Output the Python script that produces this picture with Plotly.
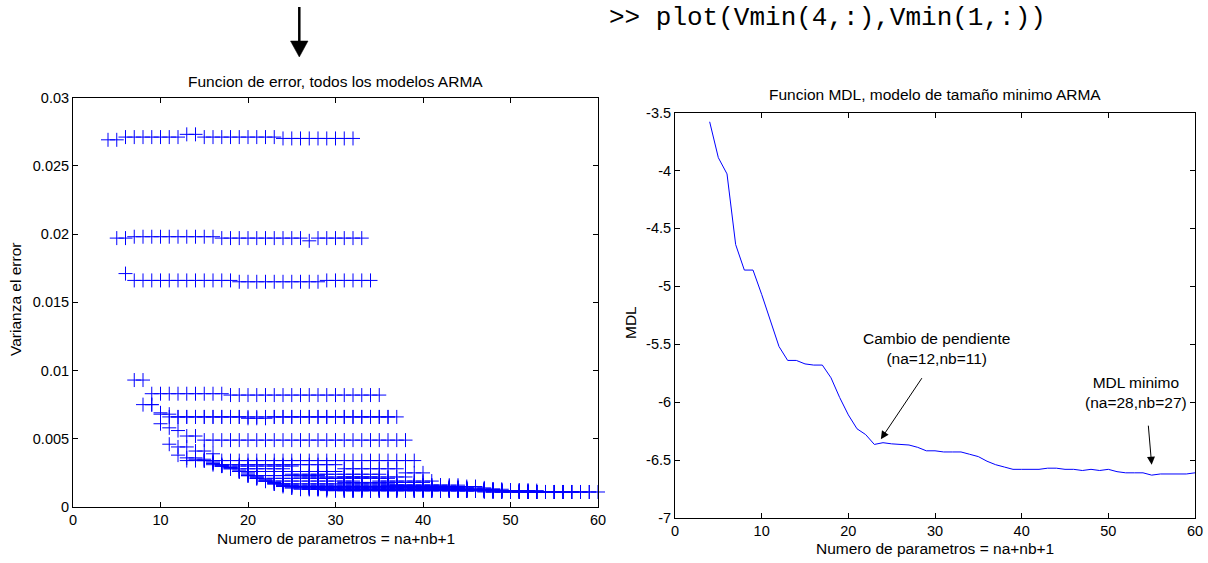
import plotly.graph_objects as go

# ---------------- data ----------------
# Left plot: error variance of every ARMA model, one row per AR order (na)
row_na = [2, 3, 4, 5, 6, 7, 8, 9, 10, 11, 12, 13, 14, 15, 16, 17, 18, 19, 20,
          21, 22, 23, 24, 25, 26, 27, 28, 29, 30]
row_first_param = [4, 5, 6, 7, 8, 9, 10, 11, 12, 13, 14, 15, 16, 17, 18, 19, 20, 21, 22,
                   23, 24, 25, 26, 27, 28, 29, 30, 31, 32]
# each row: (variance, number of consecutive models at that level)
row_levels = [
    [(0.0269, 2), (0.0271, 7), (0.0273, 2), (0.0271, 9), (0.0270, 9)],
    [(0.0197, 2), (0.0198, 10), (0.0197, 10), (0.0195, 1), (0.0197, 6)],
    [(0.0171, 1), (0.0166, 12), (0.0165, 10), (0.0166, 6)],
    [(0.0093, 2), (0.0083, 9), (0.0082, 18)],
    [(0.0075, 2), (0.0069, 1), (0.0066, 26)],
    [(0.0075, 1), (0.0068, 2), (0.0066, 8), (0.0065, 3), (0.0066, 15)],
    [(0.0061, 1), (0.0058, 1), (0.0056, 1), (0.0052, 2), (0.0049, 24)],
    [(0.0046, 1), (0.0038, 1), (0.0034, 27)],
    [(0.0044, 2), (0.0041, 2), (0.0039, 1), (0.0031, 14), (0.0028, 7), (0.0025, 3)],
    [(0.0036, 2), (0.0035, 1), (0.0033, 1), (0.0030, 9), (0.0022, 9), (0.0019, 7)],
    [(0.0035, 1), (0.0034, 1), (0.0032, 1), (0.0031, 1), (0.0028, 7), (0.0024, 11), (0.0016, 7)],
    [(0.0034, 1), (0.0032, 1), (0.0030, 1), (0.0029, 1), (0.0026, 12), (0.0022, 8), (0.0015, 5)],
    [(0.0031, 1), (0.0030, 1), (0.0028, 1), (0.0026, 1), (0.0023, 9), (0.0021, 8), (0.0016, 8)],
    [(0.0030, 1), (0.0029, 1), (0.0026, 1), (0.0023, 1), (0.0021, 10), (0.0018, 10), (0.0014, 5)],
    [(0.0029, 1), (0.0026, 1), (0.0023, 1), (0.0021, 1), (0.0019, 11), (0.0015, 14)],
    [(0.0027, 1), (0.0024, 1), (0.0021, 1), (0.0019, 1), (0.0017, 14), (0.0014, 11)],
    [(0.0025, 1), (0.0022, 1), (0.0019, 1), (0.0017, 1), (0.0016, 15), (0.0013, 10)],
    [(0.0022, 1), (0.0019, 1), (0.0017, 1), (0.0015, 17), (0.0013, 9)],
    [(0.0020, 1), (0.0018, 1), (0.0016, 1), (0.0014, 20), (0.0012, 6)],
    [(0.0018, 1), (0.0016, 1), (0.0015, 16), (0.0012, 11)],
    [(0.0017, 1), (0.0014, 18), (0.0012, 10)],
    [(0.0016, 1), (0.0014, 19), (0.0012, 9)],
    [(0.0013, 21), (0.0011, 8)],
    [(0.0013, 21), (0.0011, 8)],
    [(0.0013, 21), (0.0011, 8)],
    [(0.0012, 21), (0.0011, 8)],
    [(0.0012, 21), (0.0011, 8)],
    [(0.0012, 21), (0.0011, 8)],
    [(0.0012, 21), (0.0011, 8)],
]

# Right plot: MDL of the minimum-size ARMA model
mdl_params = [4, 5, 6, 7, 8, 9, 10, 11, 12, 13, 14, 15, 16, 17, 18, 19, 20, 21, 22, 23,
              24, 25, 26, 27, 28, 29, 30, 31, 32, 33, 34, 35, 36, 37, 38, 39, 40, 41, 42,
              43, 44, 45, 46, 47, 48, 49, 50, 51, 52, 53, 54, 55, 56, 57, 58, 59, 60]
mdl_values = [-3.58, -3.89, -4.03, -4.64, -4.86, -4.86, -5.07, -5.30, -5.52, -5.64,
              -5.64, -5.67, -5.68, -5.68, -5.79, -5.96, -6.11, -6.23, -6.28, -6.365,
              -6.35, -6.36, -6.365, -6.37, -6.39, -6.42, -6.42, -6.43, -6.43, -6.43,
              -6.45, -6.47, -6.51, -6.54, -6.56, -6.58, -6.58, -6.58, -6.58, -6.57,
              -6.57, -6.58, -6.58, -6.59, -6.58, -6.59, -6.58, -6.60, -6.61, -6.61,
              -6.61, -6.63, -6.62, -6.62, -6.62, -6.62, -6.61]

x_ticks = [0, 10, 20, 30, 40, 50, 60]
left_y_ticks = [0, 0.005, 0.01, 0.015, 0.02, 0.025, 0.03]
left_y_labels = ["0", "0.005", "0.01", "0.015", "0.02", "0.025", "0.03"]
right_y_ticks = [-7, -6.5, -6, -5.5, -5, -4.5, -4, -3.5]
right_y_labels = ["-7", "-6.5", "-6", "-5.5", "-5", "-4.5", "-4", "-3.5"]

# ---------------- figure ----------------
W, H = 1208, 563
def px(x):
    return x / W
def py(y):
    return 1 - y / H

left_x, left_y = [], []
for start, levels in zip(row_first_param, row_levels):
    k = start
    for val, cnt in levels:
        for _ in range(cnt):
            left_x.append(k)
            left_y.append(val)
            k += 1

BLUE = "#0000ff"
FONT = "Liberation Sans, Arial, sans-serif"
TXT = 15.5

fig = go.Figure()
fig.add_trace(go.Scatter(
    x=left_x, y=left_y, mode="markers", xaxis="x", yaxis="y",
    marker=dict(symbol="cross-thin", size=10, line=dict(color=BLUE, width=1)),
    cliponaxis=False, showlegend=False, hoverinfo="skip"))
fig.add_trace(go.Scatter(
    x=mdl_params, y=mdl_values, mode="lines", xaxis="x2", yaxis="y2",
    line=dict(color=BLUE, width=1), showlegend=False, hoverinfo="skip"))

axis_common = dict(showline=True, linecolor="black", linewidth=1, mirror="ticks",
                   ticks="inside", ticklen=5, tickwidth=1, tickcolor="black",
                   showgrid=False, zeroline=False, automargin=False,
                   tickfont=dict(family=FONT, size=14.5, color="black"))

fig.update_layout(
    width=W, height=H, margin=dict(l=0, r=0, t=0, b=0),
    paper_bgcolor="white", plot_bgcolor="white",
    font=dict(family=FONT, size=TXT, color="black"),
    xaxis=dict(domain=[px(73), px(598)], range=[0, 60], tickvals=x_ticks,
               anchor="y", **axis_common),
    yaxis=dict(domain=[py(507), py(97.5)], range=[0, 0.03], tickvals=left_y_ticks,
               ticktext=left_y_labels, anchor="x", **axis_common),
    xaxis2=dict(domain=[px(675), px(1195)], range=[0, 60], tickvals=x_ticks,
                anchor="y2", **axis_common),
    yaxis2=dict(domain=[py(518), py(112.5)], range=[-7, -3.5], tickvals=right_y_ticks,
                ticktext=right_y_labels, anchor="x2", **axis_common),
)

def txt(text, x, y, size=TXT, angle=0, family=FONT):
    return dict(text=text, x=x, y=y, xref="paper", yref="paper", showarrow=False,
                xanchor="center", yanchor="middle", textangle=angle,
                font=dict(family=family, size=size, color="black"))

annots = [
    txt("Funcion de error, todos los modelos ARMA", px(335.5), py(81)),
    txt("Funcion MDL, modelo de tamaño minimo ARMA", px(935), py(94)),
    txt("Numero de parametros = na+nb+1", px(335.5), py(538)),
    txt("Numero de parametros = na+nb+1", px(935), py(548)),
    txt("Varianza el error", px(15), py(300), angle=-90),
    txt("MDL", px(630), py(323), angle=-90),
    txt(">> plot(Vmin(4,:),Vmin(1,:))", px(828), py(18), size=26,
        family="Liberation Mono, Courier New, monospace"),
    dict(text="Cambio de pendiente<br>(na=12,nb=11)", x=30.2, y=-5.54, xref="x2", yref="y2",
         showarrow=False, xanchor="center", yanchor="middle",
         font=dict(family=FONT, size=TXT, color="black")),
    dict(text="MDL minimo<br>(na=28,nb=27)", x=53.2, y=-5.92, xref="x2", yref="y2",
         showarrow=False, xanchor="center", yanchor="middle",
         font=dict(family=FONT, size=TXT, color="black")),
    dict(text="", x=23.75, y=-6.32, ax=28.6, ay=-5.78, xref="x2", yref="y2",
         axref="x2", ayref="y2", showarrow=True, arrowhead=2, arrowsize=1.6,
         arrowwidth=1, arrowcolor="black"),
    dict(text="", x=55.0, y=-6.54, ax=54.6, ay=-6.19, xref="x2", yref="y2",
         axref="x2", ayref="y2", showarrow=True, arrowhead=2, arrowsize=1.6,
         arrowwidth=1, arrowcolor="black"),
]
fig.update_layout(annotations=annots)

# big arrow at the top left (decoration of the document)
fig.add_shape(type="line", xref="paper", yref="paper",
              x0=px(299.3), x1=px(299.3), y0=py(7), y1=py(42),
              line=dict(color="black", width=2.5))
fig.add_shape(type="path", xref="paper", yref="paper",
              path=f"M {px(290.5)},{py(41)} L {px(308)},{py(41)} L {px(299.3)},{py(57)} Z",
              fillcolor="black", line=dict(color="black", width=0.5))

fig.write_html("out.html")
